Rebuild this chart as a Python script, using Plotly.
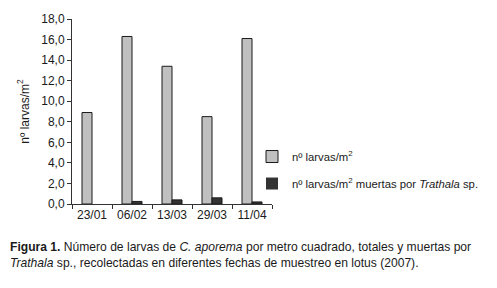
import plotly.graph_objects as go

fechas = ["23/01", "06/02", "13/03", "29/03", "11/04"]
larvas_totales = [8.9, 16.3, 13.4, 8.5, 16.1]
larvas_muertas = [0.0, 0.25, 0.4, 0.6, 0.2]
y_ticks = [0, 2, 4, 6, 8, 10, 12, 14, 16, 18]

FONT = "Liberation Sans Narrow, Arial Narrow, Liberation Sans, Arial, sans-serif"

fig = go.Figure()
fig.add_trace(go.Bar(
    x=fechas, y=larvas_totales, name="nº larvas/m<sup>2</sup>",
    marker=dict(color="#c0c0c0", line=dict(color="#1a1a1a", width=1)),
    legendgroup="a",
))
fig.add_trace(go.Bar(
    x=fechas, y=larvas_muertas, name="nº larvas/m<sup>2</sup> muertas por <i>Trathala</i> sp.",
    marker=dict(color="#333333",
                line=dict(color="#1a1a1a", width=[0 if v == 0 else 1 for v in larvas_muertas])),
    legendgroup="b",
))

fig.update_layout(
    width=497, height=288,
    margin=dict(l=72, r=225, t=13, b=84),
    paper_bgcolor="white", plot_bgcolor="white",
    barmode="group", bargap=0.5, bargroupgap=0,
    separators=", ",
    font=dict(family=FONT, size=11.5, color="#1a1a1a"),
    showlegend=True,
    legend=dict(x=0.90, y=0.335, xanchor="left", yanchor="top",
                font=dict(family=FONT, size=11.3, color="#1a1a1a"),
                tracegroupgap=8, bgcolor="rgba(0,0,0,0)", itemwidth=30),
    xaxis=dict(showline=True, linecolor="#333", linewidth=1, ticks="outside",
               tickson="boundaries", ticklen=4, tickcolor="#333", tickangle=0,
               tickfont=dict(size=12), showgrid=False),
    yaxis=dict(range=[0, 18], tickvals=y_ticks, tickformat=".1f",
               showline=True, linecolor="#333", linewidth=1, ticks="outside",
               ticklen=4, tickcolor="#333", showgrid=False, zeroline=False,
               tickfont=dict(size=12),
               title=dict(text="nº larvas/m<sup>2</sup>", font=dict(size=12), standoff=9)),
    annotations=[
        dict(xref="paper", yref="paper", x=-0.32, y=-0.185, xanchor="left", yanchor="top",
             align="left", showarrow=False,
             font=dict(family=FONT, size=12.1, color="#1a1a1a"),
             text="<b>Figura 1.</b> Número de larvas de <i>C. aporema</i> por metro cuadrado, totales y muertas por<br>"
                  "<i>Trathala</i> sp., recolectadas en diferentes fechas de muestreo en lotus (2007)."),
    ],
)

fig.write_html("out.html")
